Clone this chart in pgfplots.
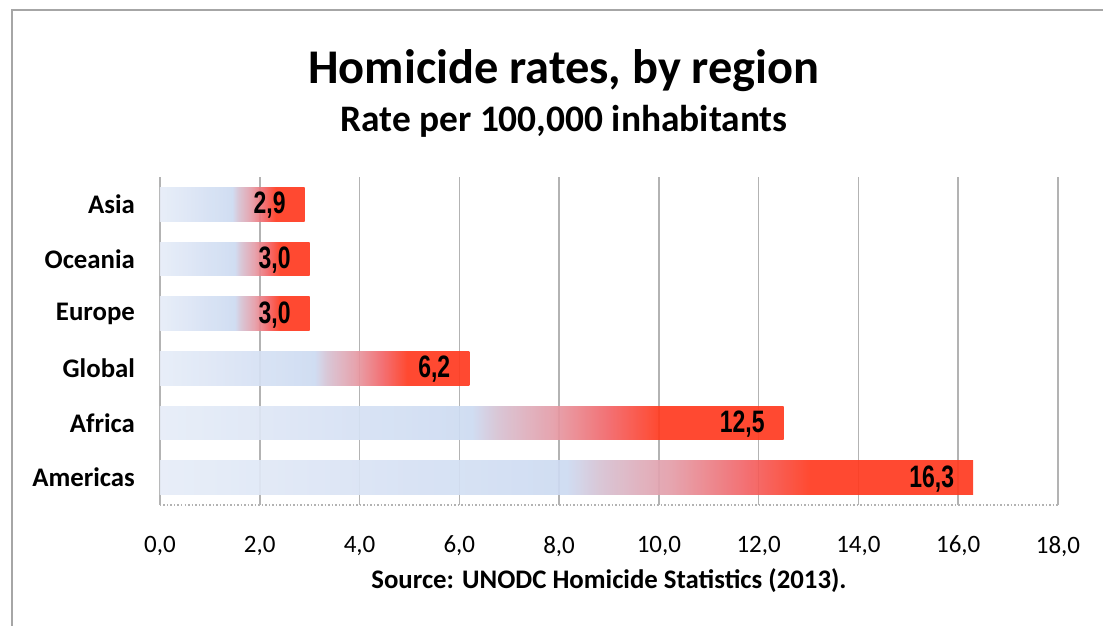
\documentclass[border=0pt]{standalone}
\usepackage{pgfplots}
\pgfplotsset{compat=1.18}
\usepackage{fontspec}
\setmainfont{Carlito}
\newfontfamily\valuefont[FakeStretch=0.74]{Liberation Sans}

\definecolor{barL}{HTML}{E6ECF7}
\definecolor{barM}{HTML}{CCDAF1}
\definecolor{barP1}{HTML}{D6C2D3}
\definecolor{barP2}{HTML}{E49CA7}
\definecolor{barP3}{HTML}{F26467}
\definecolor{barR}{HTML}{FF3A1F}
\definecolor{framegray}{HTML}{A6A6A6}
\definecolor{gridgray}{HTML}{B3B3B3}

% horizontal shading: 25bp = bar start, 75bp = bar end
\pgfdeclarehorizontalshading{barshade}{100bp}{%
  color(0bp)=(barL); color(25bp)=(barL); color(50bp)=(barM);
  color(52bp)=(barP1); color(56.5bp)=(barP2); color(61bp)=(barP3);
  color(65bp)=(barR); color(100bp)=(barR)}

\pgfplotsset{
  gradbar/.style={draw=none, shading=barshade, fill opacity=0.92,
    nodes near coords,
    nodes near coords style={anchor=east, xshift=-6pt, yshift=-0.5pt, text=black, text opacity=1,
      font=\valuefont\bfseries\fontsize{15.5}{17}\selectfont}},
}

\begin{document}
\begin{tikzpicture}
  \path[use as bounding box] (0pt,0pt) rectangle (551.5pt,313pt);
  \draw[line width=1pt, framegray] (5.75pt,0pt) -- (5.75pt,307.75pt) -- (551.5pt,307.75pt);

  \node[anchor=base, font=\bfseries\fontsize{24.2}{28}\selectfont] at (282pt,271pt) {Homicide rates, by region};
  \node[anchor=base, font=\bfseries\fontsize{18.7}{22}\selectfont] at (282pt,247pt) {Rate per 100,000 inhabitants};

  \begin{axis}[
      at={(80pt,60.5pt)}, anchor=south west,
      scale only axis, width=449pt, height=164pt,
      xbar, bar width=0.62, bar shift=0pt,
      xmin=0, xmax=18, ymin=-0.5, ymax=5.5,
      xtick={0,2,...,18},
      ytick={0,...,5},
      yticklabels={Americas,Africa,Global,Europe,Oceania,Asia},
      major tick length=0pt,
      xmajorgrids,
      major grid style={gridgray, line width=0.75pt},
      axis x line*=bottom, axis y line*=left,
      x axis line style={gridgray, densely dotted, line width=0.75pt},
      y axis line style={gridgray, line width=0.75pt},
      /pgf/number format/.cd, use comma, fixed, fixed zerofill, precision=1,
      assume math mode=true, /pgfplots/.cd,
      xticklabel style={font=\fontsize{12.5}{14}\selectfont, yshift=-12pt},
      yticklabel style={font=\bfseries\fontsize{13.4}{15}\selectfont, xshift=-9pt},
    ]
    \addplot[gradbar] coordinates {(16.3,0)};
    \addplot[gradbar] coordinates {(12.5,1)};
    \addplot[gradbar] coordinates {(6.2,2)};
    \addplot[gradbar] coordinates {(3.0,3)};
    \addplot[gradbar] coordinates {(3.0,4)};
    \addplot[gradbar] coordinates {(2.9,5)};
  \end{axis}

  \node[anchor=base, font=\bfseries\fontsize{13.4}{15}\selectfont] at (304.5pt,18.5pt) {Source: UNODC Homicide Statistics (2013).};
\end{tikzpicture}
\end{document}
